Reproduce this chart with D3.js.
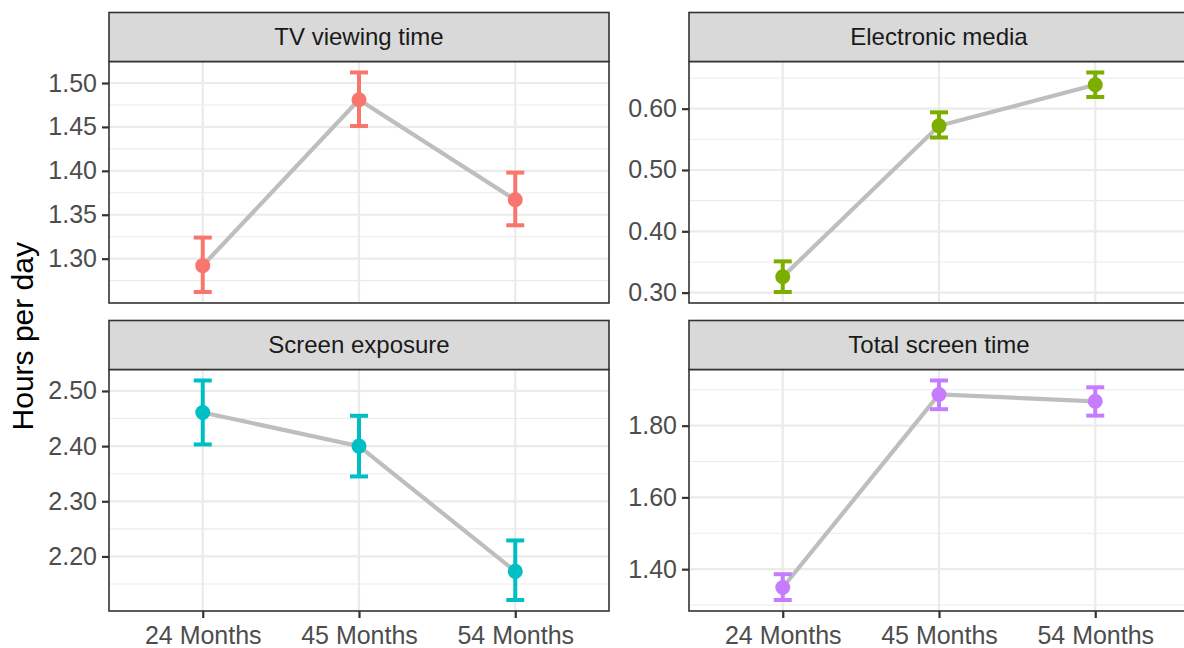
<!DOCTYPE html>
<html>
<head>
<meta charset="utf-8">
<script src="https://cdn.jsdelivr.net/npm/d3@7/dist/d3.min.js"></script>
<style>
  html, body { margin: 0; padding: 0; background: #fff; }
  svg { display: block; font-family: "Liberation Sans", Arial, sans-serif; }
</style>
</head>
<body>
<svg id="chart" width="1184" height="648"></svg>
<script>
// Time points shared by all facets
const categories = ["24 Months", "45 Months", "54 Months"];

// Facet titles
const facetTitles = ["TV viewing time", "Electronic media", "Screen exposure", "Total screen time"];

// Means and confidence limits (hours per day)
const tvMean  = [1.292, 1.481, 1.367];
const tvLower = [1.262, 1.451, 1.338];
const tvUpper = [1.324, 1.512, 1.398];

const emMean  = [0.326, 0.572, 0.639];
const emLower = [0.301, 0.553, 0.619];
const emUpper = [0.351, 0.594, 0.659];

const seMean  = [2.461, 2.400, 2.173];
const seLower = [2.403, 2.345, 2.121];
const seUpper = [2.519, 2.455, 2.229];

const tsMean  = [1.349, 1.887, 1.868];
const tsLower = [1.314, 1.846, 1.828];
const tsUpper = [1.386, 1.926, 1.907];

// Tick labels per facet
const tvTicks = [1.30, 1.35, 1.40, 1.45, 1.50];
const emTicks = [0.30, 0.40, 0.50, 0.60];
const seTicks = [2.20, 2.30, 2.40, 2.50];
const tsTicks = [1.40, 1.60, 1.80];

// Minor grid values sit halfway between major ticks
const tvMinor = [1.275, 1.325, 1.375, 1.425, 1.475];
const emMinor = [0.35, 0.45, 0.55, 0.65];
const seMinor = [2.15, 2.25, 2.35, 2.45];
const tsMinor = [1.30, 1.50, 1.70, 1.90];

const colours = ["#F8766D", "#7CAE00", "#00BFC4", "#C77CFF"];

const facets = [
  { title: facetTitles[0], mean: tvMean, lower: tvLower, upper: tvUpper, ticks: tvTicks, minor: tvMinor, col: 0, row: 0 },
  { title: facetTitles[1], mean: emMean, lower: emLower, upper: emUpper, ticks: emTicks, minor: emMinor, col: 1, row: 0 },
  { title: facetTitles[2], mean: seMean, lower: seLower, upper: seUpper, ticks: seTicks, minor: seMinor, col: 0, row: 1 },
  { title: facetTitles[3], mean: tsMean, lower: tsLower, upper: tsUpper, ticks: tsTicks, minor: tsMinor, col: 1, row: 1 }
];

// Layout
const panelW = 500;
const colX = [109, 689];
const stripH = 49;
const stripTop = [12.5, 320.5];
const panelH = 241.5;

const svg = d3.select("#chart");

facets.forEach((f, i) => {
  const x0 = colX[f.col];
  const sTop = stripTop[f.row];
  const y0 = sTop + stripH;
  const g = svg.append("g").attr("transform", `translate(${x0},${y0})`);

  const x = d3.scalePoint().domain(categories).range([0, panelW]).padding(0.6);

  // y domain from the error-bar extent with 5% expansion
  const lo = d3.min(f.lower), hi = d3.max(f.upper);
  const pad = (hi - lo) * 0.05;
  const y = d3.scaleLinear().domain([lo - pad, hi + pad]).range([panelH, 0]);

  // panel background
  g.append("rect").attr("width", panelW).attr("height", panelH).attr("fill", "#fff");

  // minor grid
  g.selectAll(".minor").data(f.minor.filter(v => v > y.domain()[0] && v < y.domain()[1]))
    .join("line")
    .attr("x1", 0).attr("x2", panelW)
    .attr("y1", d => y(d)).attr("y2", d => y(d))
    .attr("stroke", "#EBEBEB").attr("stroke-width", 1.1);

  // major grid
  g.selectAll(".major").data(f.ticks)
    .join("line")
    .attr("x1", 0).attr("x2", panelW)
    .attr("y1", d => y(d)).attr("y2", d => y(d))
    .attr("stroke", "#EBEBEB").attr("stroke-width", 2.2);

  g.selectAll(".vgrid").data(categories)
    .join("line")
    .attr("x1", d => x(d)).attr("x2", d => x(d))
    .attr("y1", 0).attr("y2", panelH)
    .attr("stroke", "#EBEBEB").attr("stroke-width", 2.2);

  const pts = categories.map((c, k) => ({ c, m: f.mean[k], lo: f.lower[k], hi: f.upper[k] }));

  // connecting line
  g.append("path")
    .datum(pts)
    .attr("d", d3.line().x(d => x(d.c)).y(d => y(d.m)))
    .attr("fill", "none")
    .attr("stroke", "#BEBEBE")
    .attr("stroke-width", 4.2);

  // error bars
  const capHalf = 9;
  const eb = g.selectAll(".eb").data(pts).join("g").attr("stroke", colours[i]).attr("stroke-width", 4);
  eb.append("line")
    .attr("x1", d => x(d.c)).attr("x2", d => x(d.c))
    .attr("y1", d => y(d.lo)).attr("y2", d => y(d.hi));
  eb.append("line")
    .attr("x1", d => x(d.c) - capHalf).attr("x2", d => x(d.c) + capHalf)
    .attr("y1", d => y(d.hi)).attr("y2", d => y(d.hi));
  eb.append("line")
    .attr("x1", d => x(d.c) - capHalf).attr("x2", d => x(d.c) + capHalf)
    .attr("y1", d => y(d.lo)).attr("y2", d => y(d.lo));

  // points
  g.selectAll(".pt").data(pts).join("circle")
    .attr("cx", d => x(d.c)).attr("cy", d => y(d.m))
    .attr("r", 7.5)
    .attr("fill", colours[i]);

  // panel border
  g.append("rect").attr("width", panelW).attr("height", panelH)
    .attr("fill", "none").attr("stroke", "#333333").attr("stroke-width", 1.6);

  // y axis
  const yAxis = g.append("g")
    .call(d3.axisLeft(y).tickValues(f.ticks).tickFormat(d3.format(".2f")).tickSize(7).tickPadding(5));
  yAxis.select(".domain").remove();
  yAxis.selectAll(".tick line").attr("stroke", "#333333").attr("stroke-width", 2.2);
  yAxis.selectAll(".tick text")
    .attr("fill", "#4D4D4D").attr("font-size", "25px")
    .attr("font-family", "Liberation Sans, Arial, sans-serif");

  // x axis on bottom row only
  if (f.row === 1) {
    const xAxis = g.append("g").attr("transform", `translate(0,${panelH})`)
      .call(d3.axisBottom(x).tickSize(7).tickPadding(8));
    xAxis.select(".domain").remove();
    xAxis.selectAll(".tick line").attr("stroke", "#333333").attr("stroke-width", 2.2);
    xAxis.selectAll(".tick text")
      .attr("fill", "#4D4D4D").attr("font-size", "25px")
      .attr("font-family", "Liberation Sans, Arial, sans-serif");
  }

  // strip
  const s = svg.append("g").attr("transform", `translate(${x0},${sTop})`);
  s.append("rect").attr("width", panelW).attr("height", stripH)
    .attr("fill", "#D9D9D9").attr("stroke", "#333333").attr("stroke-width", 1.6);
  s.append("text")
    .attr("x", panelW / 2).attr("y", stripH / 2)
    .attr("dy", "0.35em")
    .attr("text-anchor", "middle")
    .attr("fill", "#1A1A1A")
    .attr("font-size", "24px")
    .text(f.title);
});

// shared y-axis title
svg.append("text")
  .attr("transform", `translate(33,${(stripTop[0] + stripH + stripTop[1] + stripH + panelH) / 2}) rotate(-90)`)
  .attr("text-anchor", "middle")
  .attr("fill", "#000")
  .attr("font-size", "30px")
  .text("Hours per day");
</script>
</body>
</html>
